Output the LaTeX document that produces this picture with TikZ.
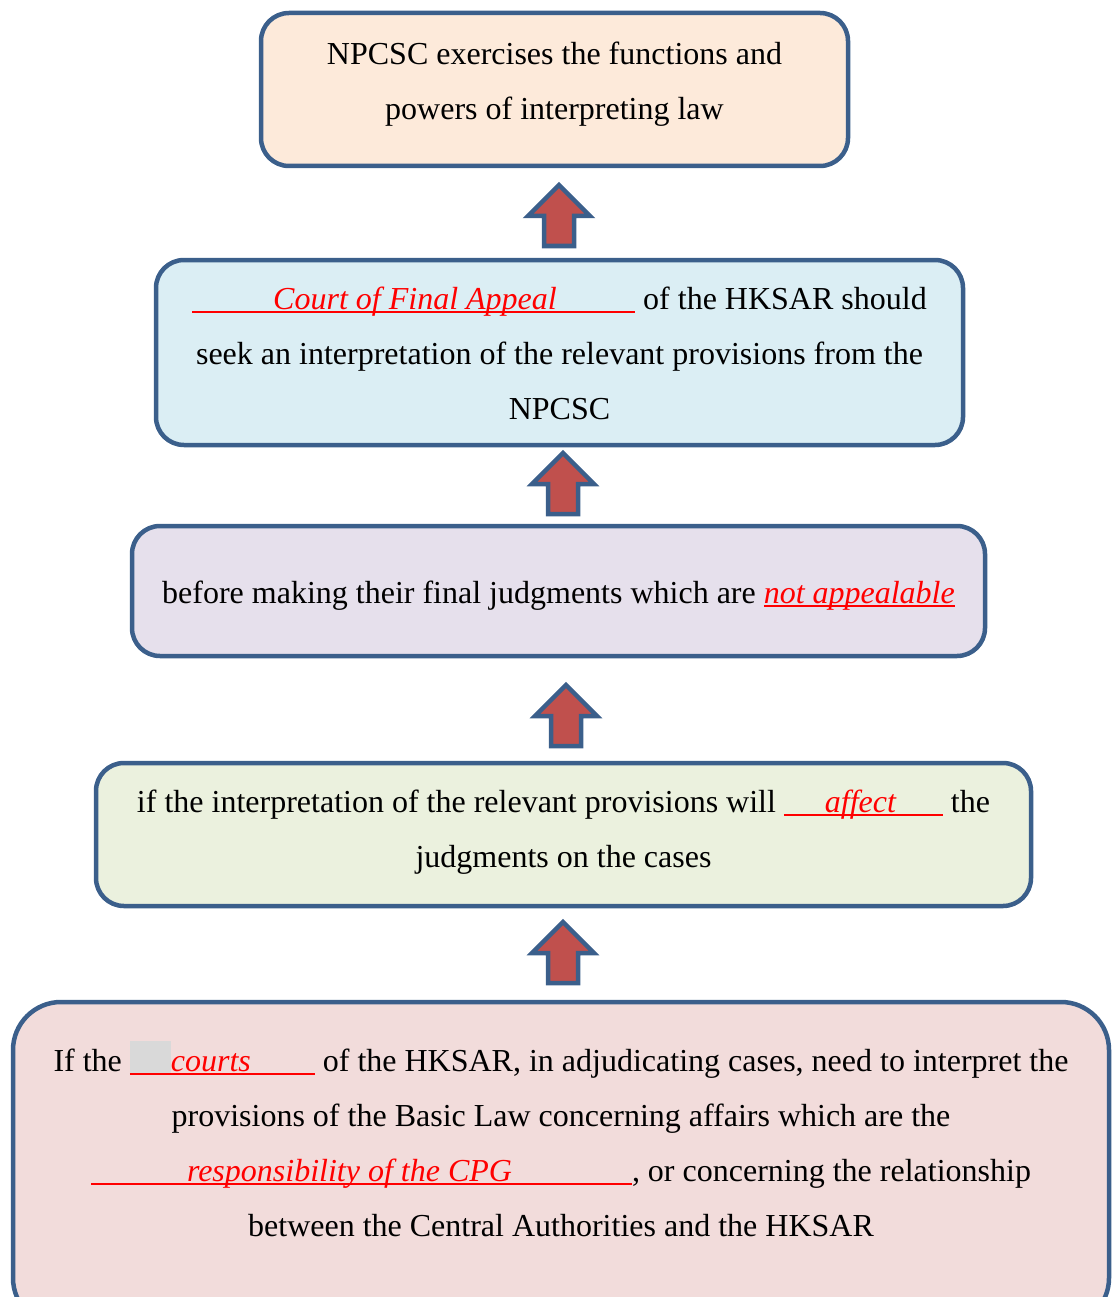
\documentclass[tikz,border=0pt]{standalone}
\usepackage{fontspec}
\setmainfont{Liberation Serif}
\definecolor{bordblue}{HTML}{3B5F8B}
\definecolor{arrred}{HTML}{C0504D}
\definecolor{fillpeach}{HTML}{FDEADA}
\definecolor{fillblue}{HTML}{DBEEF4}
\definecolor{filllav}{HTML}{E6E0EC}
\definecolor{fillgreen}{HTML}{EBF1DE}
\definecolor{fillpink}{HTML}{F2DCDB}
\definecolor{txtred}{HTML}{FF0000}
\definecolor{blankgray}{HTML}{D9D9D9}
\newsavebox\myulbox
\newcommand\blankfill[3]{\textcolor{txtred}{\rlap{\rule[-3.5pt]{#1}{2pt}}\makebox[#1][l]{\hspace*{#2}\textit{#3}}}}
\newcommand\redul[1]{\sbox\myulbox{\textcolor{txtred}{\textit{#1}}}\textcolor{txtred}{\rlap{\rule[-3.5pt]{\wd\myulbox}{2pt}}}\usebox\myulbox}
\newcommand\grayblk{\rlap{\textcolor{blankgray}{\rule[-3pt]{41pt}{33pt}}}}
\begin{document}
\begin{tikzpicture}[x=1pt,y=-1pt,
  boxstyle/.style={draw=bordblue, line width=4.5pt, rounded corners=28pt, inner sep=0pt},
  textstyle/.style={inner sep=0pt, align=center, font=\fontsize{32}{55}\selectfont},
  arrstyle/.style={draw=bordblue, fill=arrred, line width=4.5pt, miter limit=10},
  uparrow/.pic={\path[arrstyle] (0,0) -- (31,31) -- (15,31) -- (15,61) -- (-15,61) -- (-15,31) -- (-31,31) -- cycle;}
]
\useasboundingbox (0,0) rectangle (1113,1297);
\clip (0,0) rectangle (1113,1297);

\node[boxstyle, fill=fillpeach, minimum width=587pt, minimum height=153pt] (b1) at (554.5,89.5) {};
\node[textstyle] (t1) at (554.5,84.5)
  {NPCSC exercises the functions and\\powers of interpreting law};

\node[boxstyle, fill=fillblue, minimum width=807pt, minimum height=185pt] (b2) at (559.5,352.5) {};
\node[textstyle] (t2) at (559.5,353.5)
  {\blankfill{443pt}{81pt}{Court of Final Appeal} of the HKSAR should\\seek an interpretation of the relevant provisions from the\\NPCSC};

\node[boxstyle, fill=filllav, minimum width=853pt, minimum height=130pt] (b3) at (558.5,591) {};
\node[textstyle] (t3) at (558.5,595.5)
  {before making their final judgments which are \redul{not appealable}};

\node[boxstyle, fill=fillgreen, minimum width=935pt, minimum height=143pt] (b4) at (563.5,834.5) {};
\node[textstyle] (t4) at (563.5,832)
  {if the interpretation of the relevant provisions will \blankfill{159pt}{41pt}{affect} the\\judgments on the cases};

\node[boxstyle, rounded corners=48pt, fill=fillpink, minimum width=1096pt, minimum height=324pt] (b5) at (561,1164) {};
\node[textstyle] (t5) at (561,1139)
  {If the \grayblk\blankfill{185pt}{41pt}{courts} of the HKSAR, in adjudicating cases, need to interpret the\\provisions of the Basic Law concerning affairs which are the\\\blankfill{541pt}{96pt}{responsibility of the CPG}, or concerning the relationship\\between the Central Authorities and the HKSAR};

\coordinate (tip1) at (559,185);
\coordinate (tip2) at (563,453);
\coordinate (tip3) at (566,685);
\coordinate (tip4) at (563,922);
\pic (a1) at (tip1) {uparrow};
\pic (a2) at (tip2) {uparrow};
\pic (a3) at (tip3) {uparrow};
\pic (a4) at (tip4) {uparrow};
\end{tikzpicture}
\end{document}
